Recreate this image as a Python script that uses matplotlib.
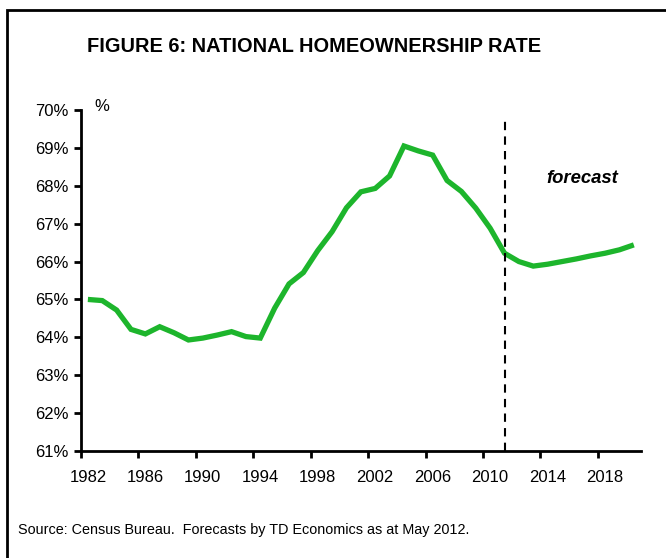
import matplotlib
matplotlib.use("Agg")
import matplotlib.pyplot as plt
from matplotlib.patches import Rectangle
import numpy as np

plt.rcParams['font.family'] = ['Liberation Sans', 'DejaVu Sans']

years = list(range(1982, 2021))
rate = [65.0, 64.97, 64.72, 64.21, 64.09, 64.28, 64.12, 63.93, 63.98, 64.06,
        64.15, 64.02, 63.98, 64.77, 65.41, 65.71, 66.29, 66.79, 67.42, 67.84,
        67.93, 68.26, 69.05, 68.92, 68.81, 68.14, 67.85, 67.41, 66.88, 66.22,
        66.0, 65.88, 65.93, 66.0, 66.07, 66.15, 66.22, 66.31, 66.44]
forecast_start = 2011
xticks = list(range(1982, 2019, 4))
yticks = list(range(61, 71))

fig = plt.figure(figsize=(6.66, 5.58), dpi=100)
ax = fig.add_axes([80.7/666, 1-451/558, (641-80.7)/666, (451-110)/558])

x = np.array(years) + 0.5
ax.plot(x, rate, color='#1DB52C', lw=3.8, solid_joinstyle='miter', solid_capstyle='butt')
ax.plot([forecast_start + 0.5]*2, [61, 69.75], color='black', lw=1.5, ls=(0, (4, 3)))

ax.set_xlim(1982, 2021)
ax.set_ylim(61, 70)
# tick marks at category boundaries, labels centred on categories
ax.set_xticks(xticks)
ax.set_xticklabels([''] * len(xticks))
ax.set_xticks(np.array(xticks) + 0.5, minor=True)
ax.set_xticklabels([str(t) for t in xticks], minor=True, fontsize=12)
ax.tick_params(axis='x', which='minor', length=0, pad=14)
ax.set_yticks(yticks)
ax.set_yticklabels([f"{t}%" for t in yticks], fontsize=12)
for s in ['top', 'right']:
    ax.spines[s].set_visible(False)
for s in ['left', 'bottom']:
    ax.spines[s].set_linewidth(2)
ax.tick_params(axis='both', which='major', direction='out', length=5, width=2, pad=4, colors='black')

ax.text(1983.5, 70.1, '%', fontsize=12, ha='center', va='center')
ax.text(2016.9, 68.2, 'forecast', fontsize=13.3, fontweight='bold', fontstyle='italic',
        ha='center', va='center')

fig.text(314/666, 1-46/558, 'FIGURE 6: NATIONAL HOMEOWNERSHIP RATE', fontsize=14.4,
         fontweight='bold', ha='center', va='center')
fig.text(18/666, 1-530/558, 'Source: Census Bureau.  Forecasts by TD Economics as at May 2012.',
         fontsize=10.4, ha='left', va='center')

fig.add_artist(Rectangle((7/666, -0.1), 1.2, 1 - 10/558 + 0.1, transform=fig.transFigure,
                         fill=False, edgecolor='black', lw=2))

fig.savefig('out.png', dpi=100)
